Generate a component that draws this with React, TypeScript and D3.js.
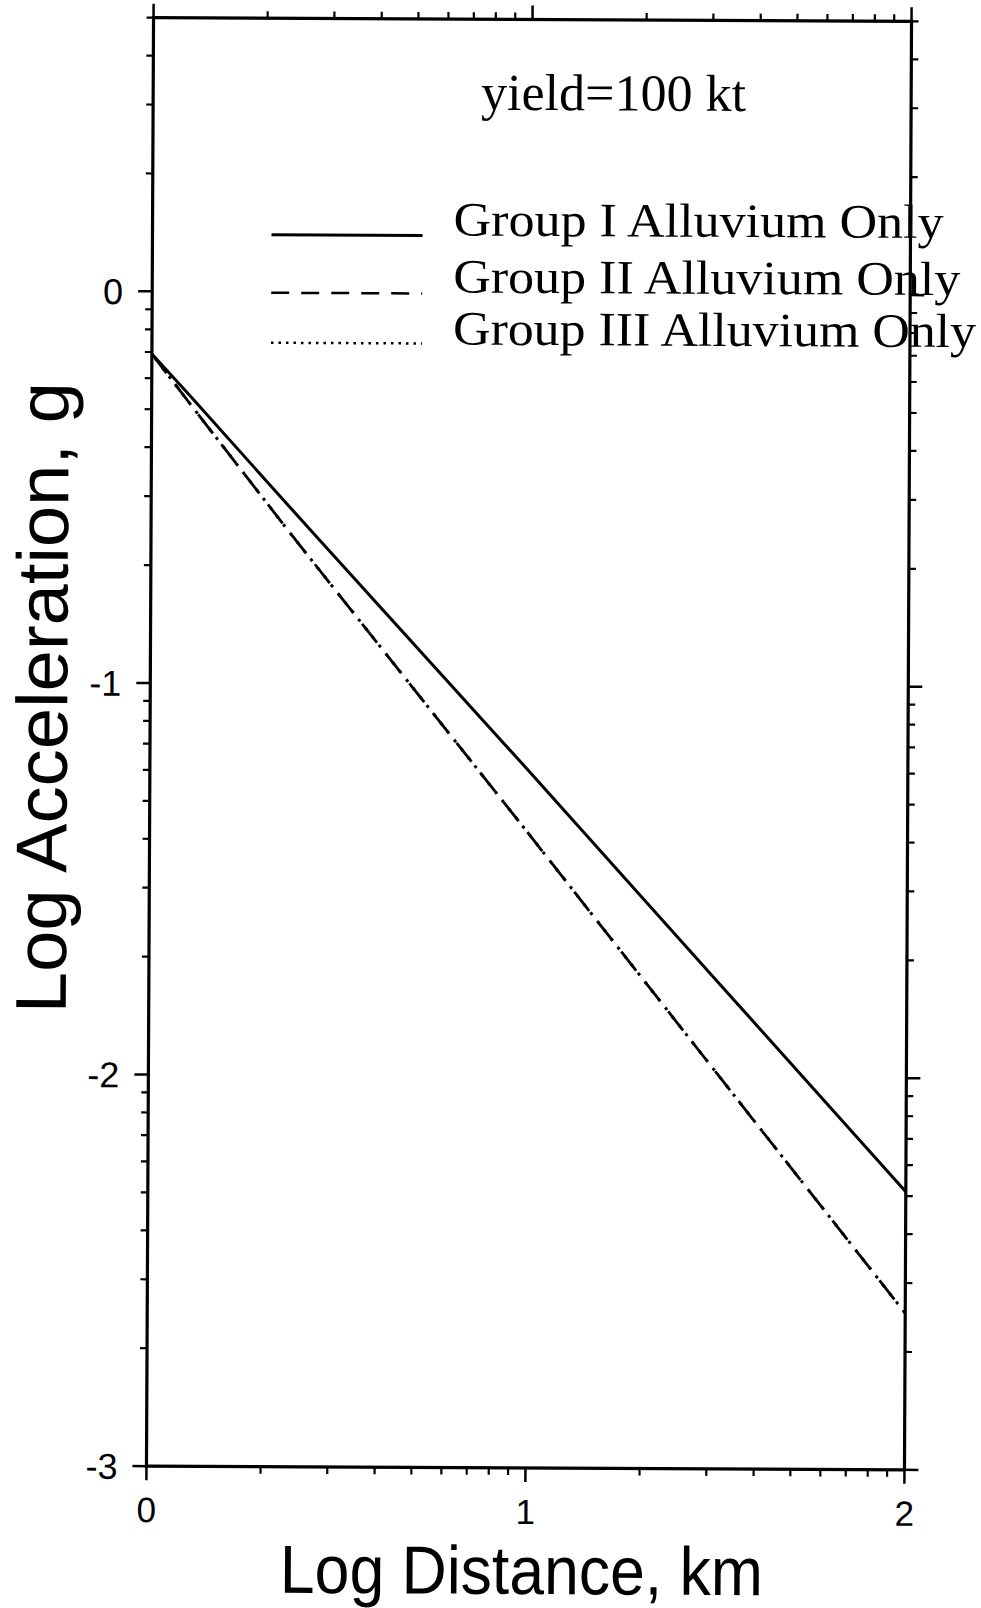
import React from "react";
import * as d3 from "d3";

// ---- data ----
const groupIX = [0, 0.1, 0.42, 1.0, 1.5, 2.0];
const groupIY = [-0.16, -0.265, -0.607, -1.22, -1.755, -2.29];
const groupIIX = [0, 0.1, 0.36, 1.0, 1.5, 2.0];
const groupIIY = [-0.16, -0.285, -0.607, -1.38, -1.99, -2.6];
const groupIIIX = groupIIX;
const groupIIIY = groupIIY;
const legendLabels = ["Group I Alluvium Only", "Group II Alluvium Only", "Group III Alluvium Only"];
const xMajorTicks = [0, 1, 2];
const yMajorTicks = [-3, -2, -1, 0];
const xDomain = [0, 2];
const yDomain = [-3, Math.log10(5)];
const annotation = "yield=100 kt";
const xTitle = "Log Distance, km";
const yTitle = "Log Acceleration, g";

const W = 981;
const H = 1608;
const L = 150, R = 908, T = 19.5, B = 1468;
const SANS = "'Liberation Sans', Arial, Helvetica, sans-serif";
const SERIF = "'Liberation Serif', 'Times New Roman', Times, serif";

function minorTicks(lo: number, hi: number): number[] {
  const out: number[] = [];
  for (let n = Math.floor(lo) - 1; n <= Math.ceil(hi); n++) {
    for (let k = 2; k <= 9; k++) {
      const v = n + Math.log10(k);
      if (v >= lo - 1e-9 && v <= hi + 1e-9) out.push(v);
    }
  }
  return out;
}

export default function App() {
  const x = d3.scaleLinear().domain(xDomain).range([L, R]);
  const y = d3.scaleLinear().domain(yDomain).range([B, T]);
  const line = d3
    .line<[number, number]>()
    .x((d) => x(d[0]))
    .y((d) => y(d[1]));
  const s1 = groupIX.map((v, i) => [v, groupIY[i]] as [number, number]);
  const s2 = groupIIX.map((v, i) => [v, groupIIY[i]] as [number, number]);
  const s3 = groupIIIX.map((v, i) => [v, groupIIIY[i]] as [number, number]);
  const xMinor = minorTicks(xDomain[0], xDomain[1]);
  const yMinor = minorTicks(yDomain[0], yDomain[1]);
  const cx = (L + R) / 2, cy = (T + B) / 2;
  const MAJ = 14, MIN = 7;

  const legendY = [236, 294, 344];
  const legendTextY = [236, 293, 345];
  const legendWidth = [490, 507, 523];
  const legendDash = [undefined, "18 12", "2.5 5"];

  return (
    <svg width={W} height={H} viewBox={`0 0 ${W} ${H}`} style={{ display: "block", position: "absolute", left: 0, top: 0, background: "#fff" }}>
      <rect x={0} y={0} width={W} height={H} fill="#fff" />
      <g transform={`rotate(0.28 ${cx} ${cy})`}>
        {/* frame */}
        <rect x={L} y={T} width={R - L} height={B - T} fill="none" stroke="#000" strokeWidth={3.2} />
        {/* y ticks left & right */}
        {yMajorTicks.map((t) => (
          <g key={"ym" + t}>
            <line x1={L - MAJ} x2={L} y1={y(t)} y2={y(t)} stroke="#000" strokeWidth={2.5} />
            <line x1={R} x2={R + MAJ} y1={y(t)} y2={y(t)} stroke="#000" strokeWidth={2.5} />
            <text x={121} y={y(t)} dy="0.36em" textAnchor="end" fontFamily={SANS} fontSize={36} fill="#000">
              {t}
            </text>
          </g>
        ))}
        {yMinor.map((t, i) => (
          <g key={"yn" + i}>
            <line x1={L - MIN} x2={L} y1={y(t)} y2={y(t)} stroke="#000" strokeWidth={2.2} />
            <line x1={R} x2={R + MIN} y1={y(t)} y2={y(t)} stroke="#000" strokeWidth={2.2} />
          </g>
        ))}
        {/* x ticks bottom & top */}
        {xMajorTicks.map((t) => (
          <g key={"xm" + t}>
            <line x1={x(t)} x2={x(t)} y1={B} y2={B + MAJ} stroke="#000" strokeWidth={2.5} />
            <line x1={x(t)} x2={x(t)} y1={T - MAJ} y2={T} stroke="#000" strokeWidth={2.5} />
            <text x={x(t)} y={1524} textAnchor="middle" fontFamily={SANS} fontSize={35} fill="#000">
              {t}
            </text>
          </g>
        ))}
        {xMinor.map((t, i) => (
          <g key={"xn" + i}>
            <line x1={x(t)} x2={x(t)} y1={B} y2={B + MIN} stroke="#000" strokeWidth={2.2} />
            <line x1={x(t)} x2={x(t)} y1={T - MIN} y2={T} stroke="#000" strokeWidth={2.2} />
          </g>
        ))}
        {/* curves */}
        <path d={line(s1) || ""} fill="none" stroke="#000" strokeWidth={3} />
        <path d={line(s2) || ""} fill="none" stroke="#000" strokeWidth={2.8} strokeDasharray="24 14" />
        <path d={line(s3) || ""} fill="none" stroke="#000" strokeWidth={3} strokeDasharray="3 8" strokeDashoffset={-28} />
        {/* annotation */}
        <text x={478} y={110} fontFamily={SERIF} fontSize={52} fill="#000">
          {annotation}
        </text>
        {/* legend */}
        {legendLabels.map((lab, i) => (
          <g key={lab}>
            <line x1={269} x2={420} y1={legendY[i]} y2={legendY[i]} stroke="#000" strokeWidth={i === 0 ? 3 : 2.5} strokeDasharray={legendDash[i]} />
            <text x={451} y={legendTextY[i]} fontFamily={SERIF} fontSize={48} textLength={legendWidth[i]} lengthAdjust="spacingAndGlyphs" fill="#000">
              {lab}
            </text>
          </g>
        ))}
        {/* axis titles */}
        <text x={525.5} y={1594} textAnchor="middle" fontFamily={SANS} fontSize={68} textLength={483} lengthAdjust="spacingAndGlyphs" fill="#000">
          {xTitle}
        </text>
        <text transform={`translate(67 700) rotate(-90)`} textAnchor="middle" fontFamily={SANS} fontSize={72} textLength={631} lengthAdjust="spacingAndGlyphs" fill="#000">
          {yTitle}
        </text>
      </g>
    </svg>
  );
}
